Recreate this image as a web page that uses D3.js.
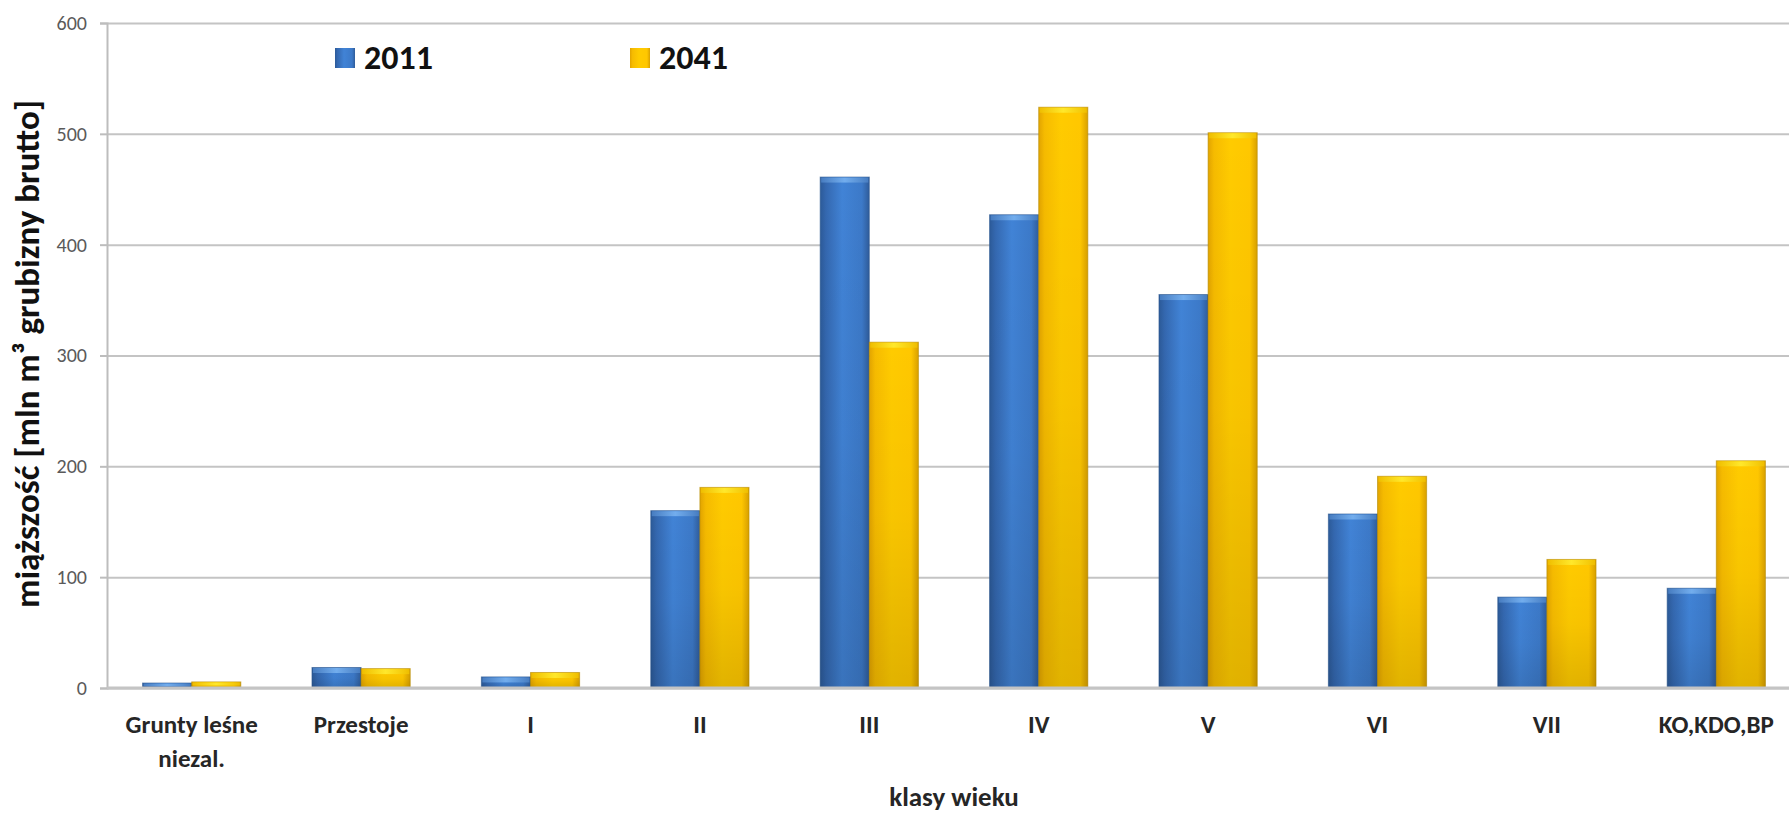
<!DOCTYPE html>
<html>
<head>
<meta charset="utf-8">
<script src="https://cdn.jsdelivr.net/npm/d3@7"></script>
<style>
  html, body { margin: 0; padding: 0; background: #fff; }
  svg { display: block; }
  text { font-family: Carlito, Lato, "Open Sans", sans-serif; }
</style>
</head>
<body>
<svg id="chart" width="1789" height="814"></svg>
<script>
const categories = ["Grunty leśne|niezal.", "Przestoje", "I", "II", "III", "IV", "V", "VI", "VII", "KO,KDO,BP"];
const seriesNames = ["2011", "2041"];
const values2011 = [4.5, 18.5, 10, 160, 461, 427, 355, 157, 82, 90];
const values2041 = [5.5, 17.5, 14, 181, 312, 524, 501, 191, 116, 205];
const yTicks = [0, 100, 200, 300, 400, 500, 600];
const yTitle = "miąższość [mln m³ grubizny brutto]";
const xTitle = "klasy wieku";

const svg = d3.select("#chart");
const W = 1789, H = 814;
const left = 107, step = 169.4;
const y0 = 688, yTop = 23;

const x0 = d3.scaleBand().domain(categories).range([left, left + step * categories.length])
  .paddingInner(0.42).paddingOuter(0.21);
const x1 = d3.scaleBand().domain(seriesNames).range([0, x0.bandwidth()]);
const y = d3.scaleLinear().domain([0, 600]).range([y0, yTop]);

const defs = svg.append("defs");
function hgrad(id, stops) {
  const g = defs.append("linearGradient").attr("id", id).attr("x1", "0").attr("x2", "1").attr("y1", "0").attr("y2", "0");
  stops.forEach(s => g.append("stop").attr("offset", s[0]).attr("stop-color", s[1]));
}
function vgrad(id, stops) {
  const g = defs.append("linearGradient").attr("id", id).attr("x1", "0").attr("x2", "0").attr("y1", "0").attr("y2", "1");
  stops.forEach(s => g.append("stop").attr("offset", s[0]).attr("stop-color", s[1][0]).attr("stop-opacity", s[1][1]));
}
hgrad("gBlue", [[0, "#2c5a98"], [0.12, "#3468b0"], [0.45, "#4183d6"], [0.85, "#3c79c8"], [1, "#2f5c9a"]]);
hgrad("gYellow", [[0, "#e2a400"], [0.12, "#f6bb00"], [0.45, "#ffcb00"], [0.85, "#ffc700"], [1, "#d9a000"]]);
vgrad("gShade", [[0, ["#000", 0]], [0.5, ["#000", 0.03]], [1, ["#000", 0.12]]]);
hgrad("gBlueTop", [[0, "#4a80c4"], [0.5, "#78b2f0"], [1, "#4a80c4"]]);
hgrad("gYellowTop", [[0, "#f0c000"], [0.5, "#ffeb30"], [1, "#f0c000"]]);

// gridlines
const grid = svg.append("g").attr("transform", `translate(${left},0)`)
  .call(d3.axisLeft(y).tickValues(yTicks).tickSize(-(W - left)).tickFormat(""));
grid.select(".domain").remove();
grid.selectAll("line").attr("stroke", "#c4c4c4").attr("stroke-width", 2);

// bars
const data = categories.map((c, i) => ({ c, v: [values2011[i], values2041[i]] }));
const colors = { "2011": ["url(#gBlue)", "url(#gBlueTop)", "#2a5690"], "2041": ["url(#gYellow)", "url(#gYellowTop)", "#b58c00"] };
const groups = svg.append("g").selectAll("g").data(data).join("g")
  .attr("transform", d => `translate(${x0(d.c)},0)`);
seriesNames.forEach((s, si) => {
  const bw = x1.bandwidth();
  groups.append("rect")
    .attr("x", x1(s)).attr("width", bw)
    .attr("y", d => y(d.v[si])).attr("height", d => y(0) - y(d.v[si]))
    .attr("fill", colors[s][0]).attr("stroke", colors[s][2]).attr("stroke-width", 1).attr("stroke-opacity", 0.6);
  groups.append("rect")
    .attr("x", x1(s)).attr("width", bw)
    .attr("y", d => y(d.v[si])).attr("height", d => y(0) - y(d.v[si]))
    .attr("fill", "url(#gShade)");
  groups.append("rect")
    .attr("x", x1(s) + 1).attr("width", bw - 2)
    .attr("y", d => y(d.v[si]) + 0.5).attr("height", d => Math.min(5, (y(0) - y(d.v[si])) / 2))
    .attr("fill", colors[s][1]).attr("opacity", 0.9);
});

// y axis
const yAxis = svg.append("g").attr("transform", `translate(${left},0)`)
  .call(d3.axisLeft(y).tickValues(yTicks).tickSize(7).tickPadding(13));
yAxis.select(".domain").attr("stroke", "#bdbdbd").attr("stroke-width", 2);
yAxis.selectAll("line").attr("stroke", "#bdbdbd").attr("stroke-width", 2);
yAxis.selectAll("text").attr("fill", "#5a5a5a").style("font-size", "20px");

// x axis
const xAxis = svg.append("g").attr("transform", `translate(0,${y0})`)
  .call(d3.axisBottom(x0).tickSize(0).tickFormat(""));
xAxis.select(".domain").attr("stroke", "#c4c4c4").attr("stroke-width", 3).attr("d", `M${left},0H${W}`);
xAxis.selectAll(".tick").each(function(d) {
  const lines = d.split("|");
  const t = d3.select(this).append("text").attr("fill", "#262626")
    .attr("text-anchor", "middle").style("font-size", "25px").style("font-weight", "bold");
  lines.forEach((l, i) => t.append("tspan").attr("x", 0).attr("y", 45 + i * 34).text(l));
});

// axis titles
svg.append("text").attr("x", 954).attr("y", 806).attr("text-anchor", "middle")
  .attr("fill", "#262626").style("font-size", "27px").style("font-weight", "bold").text(xTitle);
svg.append("text").attr("transform", "translate(39,354) rotate(-90)").attr("text-anchor", "middle")
  .attr("fill", "#111").style("font-size", "35px").style("font-weight", "bold").text(yTitle);

// legend
const legendX = [335, 630];
const legendColors = ["url(#gBlue)", "url(#gYellow)"];
seriesNames.forEach((s, i) => {
  const g = svg.append("g").attr("transform", `translate(${legendX[i]},48)`);
  g.append("rect").attr("width", 20).attr("height", 20).attr("fill", legendColors[i]);
  g.append("text").attr("x", 29).attr("y", 21).attr("fill", "#111")
    .style("font-size", "34px").style("font-weight", "bold").text(s);
});
</script>
</body>
</html>
